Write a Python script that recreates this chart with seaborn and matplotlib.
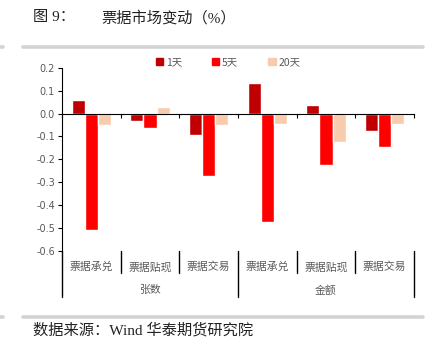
import matplotlib
matplotlib.use("Agg")
import matplotlib.pyplot as plt
from matplotlib.lines import Line2D
import seaborn as sns
import pandas as pd

groups = ["张数", "金额"]
items = ["票据承兑", "票据贴现", "票据交易"]
periods = ["1天", "5天", "20天"]
v1 = [0.06, -0.034, -0.092, 0.132, 0.039, -0.076]
v5 = [-0.507, -0.063, -0.272, -0.472, -0.223, -0.146]
v20 = [-0.051, 0.027, -0.05, -0.045, -0.124, -0.045]
yticks = [0.2, 0.1, 0.0, -0.1, -0.2, -0.3, -0.4, -0.5, -0.6]
colors = ["#C00000", "#FF0000", "#F8CBAD"]

cats = [f"{g}-{it}" for g in groups for it in items]
rows = []
for p, vals in zip(periods, [v1, v5, v20]):
    for c, v in zip(cats, vals):
        rows.append({"cat": c, "period": p, "value": v})
df = pd.DataFrame(rows)

sns.set_theme(style="white")
plt.rcParams["font.family"] = ["Noto Sans CJK SC", "DejaVu Sans"]

fig = plt.figure(figsize=(4.3, 3.44), dpi=100)
ax = fig.add_axes([62/430, 1-251/344, 352/430, (251-67.7)/344])

sns.barplot(data=df, x="cat", y="value", hue="period", order=cats,
            hue_order=periods, palette=colors, width=0.67, ax=ax,
            saturation=1, legend=False, errorbar=None)

ax.set_ylim(-0.6, 0.2)
ax.set_xlim(-0.5, 5.5)
ax.set_yticks(yticks)
ax.set_yticklabels([f"{t:.1f}" for t in yticks], color="#595959", fontsize=7,
                   family=["DejaVu Sans"])
ax.set_xticks([i - 0.5 for i in range(7)])
ax.set_xticklabels([])
ax.set_xlabel("")
ax.set_ylabel("")
for s in ["top", "right"]:
    ax.spines[s].set_visible(False)
ax.spines["bottom"].set_position(("data", 0))
ax.spines["left"].set_color("black")
ax.spines["bottom"].set_color("black")
ax.spines["left"].set_linewidth(0.8)
ax.spines["bottom"].set_linewidth(0.8)
ax.tick_params(axis="y", direction="out", length=3, width=0.8, color="black", pad=2, left=True)
ax.tick_params(axis="x", direction="out", length=3, width=0.8, color="black", bottom=True)

# two-level category axis
trans = ax.get_xaxis_transform()
for i in range(7):
    x = i - 0.5
    y0 = -0.25 if i in (0, 3, 6) else -0.12
    ax.add_line(Line2D([x, x], [0, y0], transform=trans, color="black",
                       lw=1.0, clip_on=False))
for i, c in enumerate(cats):
    ax.text(i, -0.088, items[i % 3], transform=trans, ha="center", va="center",
            fontsize=7.8, color="#595959")
for j, g in enumerate(groups):
    ax.text(j*3 + 1, -0.213, g, transform=trans, ha="center", va="center",
            fontsize=7.8, color="#595959")

# legend
handles = [plt.Rectangle((0, 0), 1, 1, color=c) for c in colors]
fig.legend(handles, periods, loc="center", bbox_to_anchor=(228/430, 1-62/344),
           ncol=3, frameon=False, fontsize=7.5, handlelength=0.7, handleheight=0.7,
           handletextpad=0.25, columnspacing=2.9, labelcolor="#595959")

# decorations
for yy in [47, 317]:
    fig.add_artist(Line2D([23/430, 423/430], [1-yy/344]*2, color="#d3d3d3",
                          lw=2.6, transform=fig.transFigure))
    fig.add_artist(Line2D([0, 3/430], [1-yy/344]*2, color="#d3d3d3",
                          lw=2.6, transform=fig.transFigure))

serif_cjk = ["Liberation Serif", "Noto Sans CJK SC"]
fig.text(33/430, 1-18/344, "图 9：", fontsize=11, va="center", ha="left",
         family=serif_cjk, color="#222222")
fig.text(101/430, 1-18/344, "票据市场变动（%）", fontsize=11, va="center", ha="left",
         family=serif_cjk, color="#222222")
fig.text(33/430, 1-330/344, "数据来源：Wind 华泰期货研究院", fontsize=11, va="center",
         ha="left", family=serif_cjk, color="#222222")

fig.savefig("out.png", dpi=100)
